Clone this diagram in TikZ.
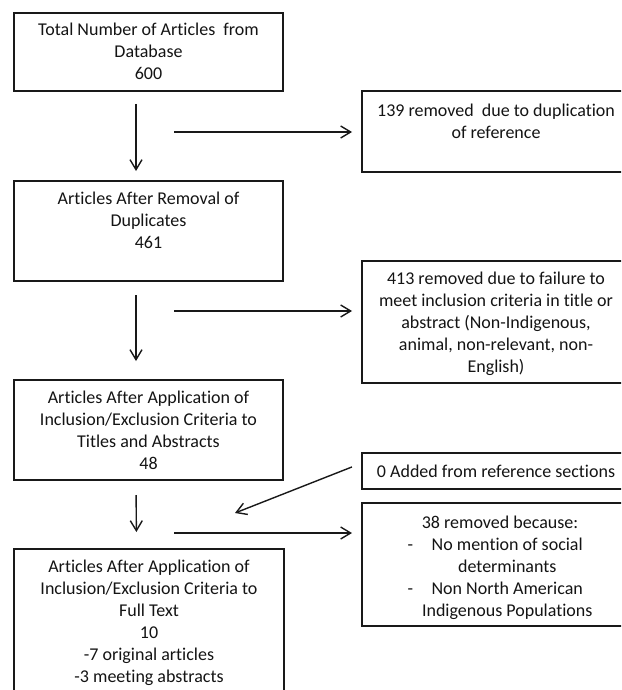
\documentclass[tikz,border=0pt]{standalone}
\usepackage{fontspec}
\setmainfont{Carlito}[Ligatures={NoCommon}]
\usetikzlibrary{arrows.meta}
\definecolor{linec}{RGB}{25,25,25}
\definecolor{txtc}{RGB}{20,20,20}
\begin{document}
\begin{tikzpicture}[x=1pt,y=-1pt,
  box/.style={draw=linec, line width=1.8pt, inner sep=0pt, outer sep=0pt},
  txt/.style={anchor=north, align=center, inner sep=0pt, text=txtc, font=\fontsize{18}{22}\selectfont},
  arr/.style={draw=linec, line width=1.4pt, -{Straight Barb[length=10pt,width=12pt]}},
]
\useasboundingbox (0,0) rectangle (621,690);
\fill[white] (0,0) rectangle (621,690);
\clip (0,0) rectangle (621,690);

% left column boxes
\node[box, minimum width=269pt, minimum height=78pt]  (b1) at (148.5,52) {};
\node[box, minimum width=269pt, minimum height=100pt] (b2) at (148.5,231) {};
\node[box, minimum width=269pt, minimum height=100pt] (b3) at (148.5,430) {};
\node[box, minimum width=270pt, minimum height=151pt] (b4) at (149,624.5) {};

% right column boxes
\node[box, minimum width=268pt, minimum height=81pt]  (r1) at (496,131.5) {};
\node[box, minimum width=268pt, minimum height=122pt] (r2) at (496,322) {};
\node[box, minimum width=268pt, minimum height=36pt]  (r3) at (496,471) {};
\node[box, minimum width=268pt, minimum height=123pt] (r4) at (496,564.5) {};

% texts
\node[txt] (t1) at ([yshift=-9.5pt]b1.north) {Total Number of Articles\ \ from\\Database\\600};
\node[txt] (t2) at ([yshift=-10.5pt]b2.north) {Articles After Removal of\\Duplicates\\461};
\node[txt] (t3) at ([yshift=-10.5pt]b3.north) {Articles After Application of\\Inclusion/Exclusion Criteria to\\Titles and Abstracts\\48};
\node[txt] (t4) at ([yshift=-10.5pt]b4.north) {Articles After Application of\\Inclusion/Exclusion Criteria to\\Full Text\\10\\-7 original articles\\-3 meeting abstracts};
\node[txt] (s1) at ([yshift=-12.5pt]r1.north) {139 removed\ \ due to duplication\\of reference};
\node[txt] (s2) at ([yshift=-10.5pt]r2.north) {413 removed due to failure to\\meet inclusion criteria in title or\\abstract (Non-Indigenous,\\animal, non-relevant, non-\\English)};
\node[txt, anchor=center] (s3) at (r3.center) {0 Added from reference sections};
\node[txt] (s4) at ([xshift=4pt,yshift=-9.9pt]r4.north) {\begin{tabular}{@{}l@{\hspace{9pt}}c@{}}
\multicolumn{2}{c}{38 removed because:}\\
- & No mention of social\\
  & determinants\\
- & Non North American\\
  & Indigenous Populations
\end{tabular}};

% free-end coordinates
\coordinate (h1) at (174,132);
\coordinate (h2) at (174,311);
\coordinate (h3) at (174,533);
\coordinate (dtip) at (235,513);

% vertical arrows
\draw[arr, shorten <=13pt, shorten >=10pt] ([xshift=-12.5pt]b1.south) -- ([xshift=-12.5pt]b2.north);
\draw[arr, shorten <=14pt, shorten >=19pt] ([xshift=-12.5pt]b2.south) -- ([xshift=-12.5pt]b3.north);
\draw[arr, shorten <=15pt, shorten >=17pt] ([xshift=-12.5pt]b3.south) -- ([xshift=-12.5pt]b4.north);

% horizontal arrows
\draw[arr, shorten >=10pt] (h1) -- (h1 -| r1.west);
\draw[arr, shorten >=10pt] (h2) -- (h2 -| r2.west);
\draw[arr, shorten >=10pt] (h3) -- (h3 -| r4.west);

% diagonal arrow
\draw[arr, shorten <=10.8pt] ([yshift=8pt]r3.west) -- (dtip);
\end{tikzpicture}
\end{document}
